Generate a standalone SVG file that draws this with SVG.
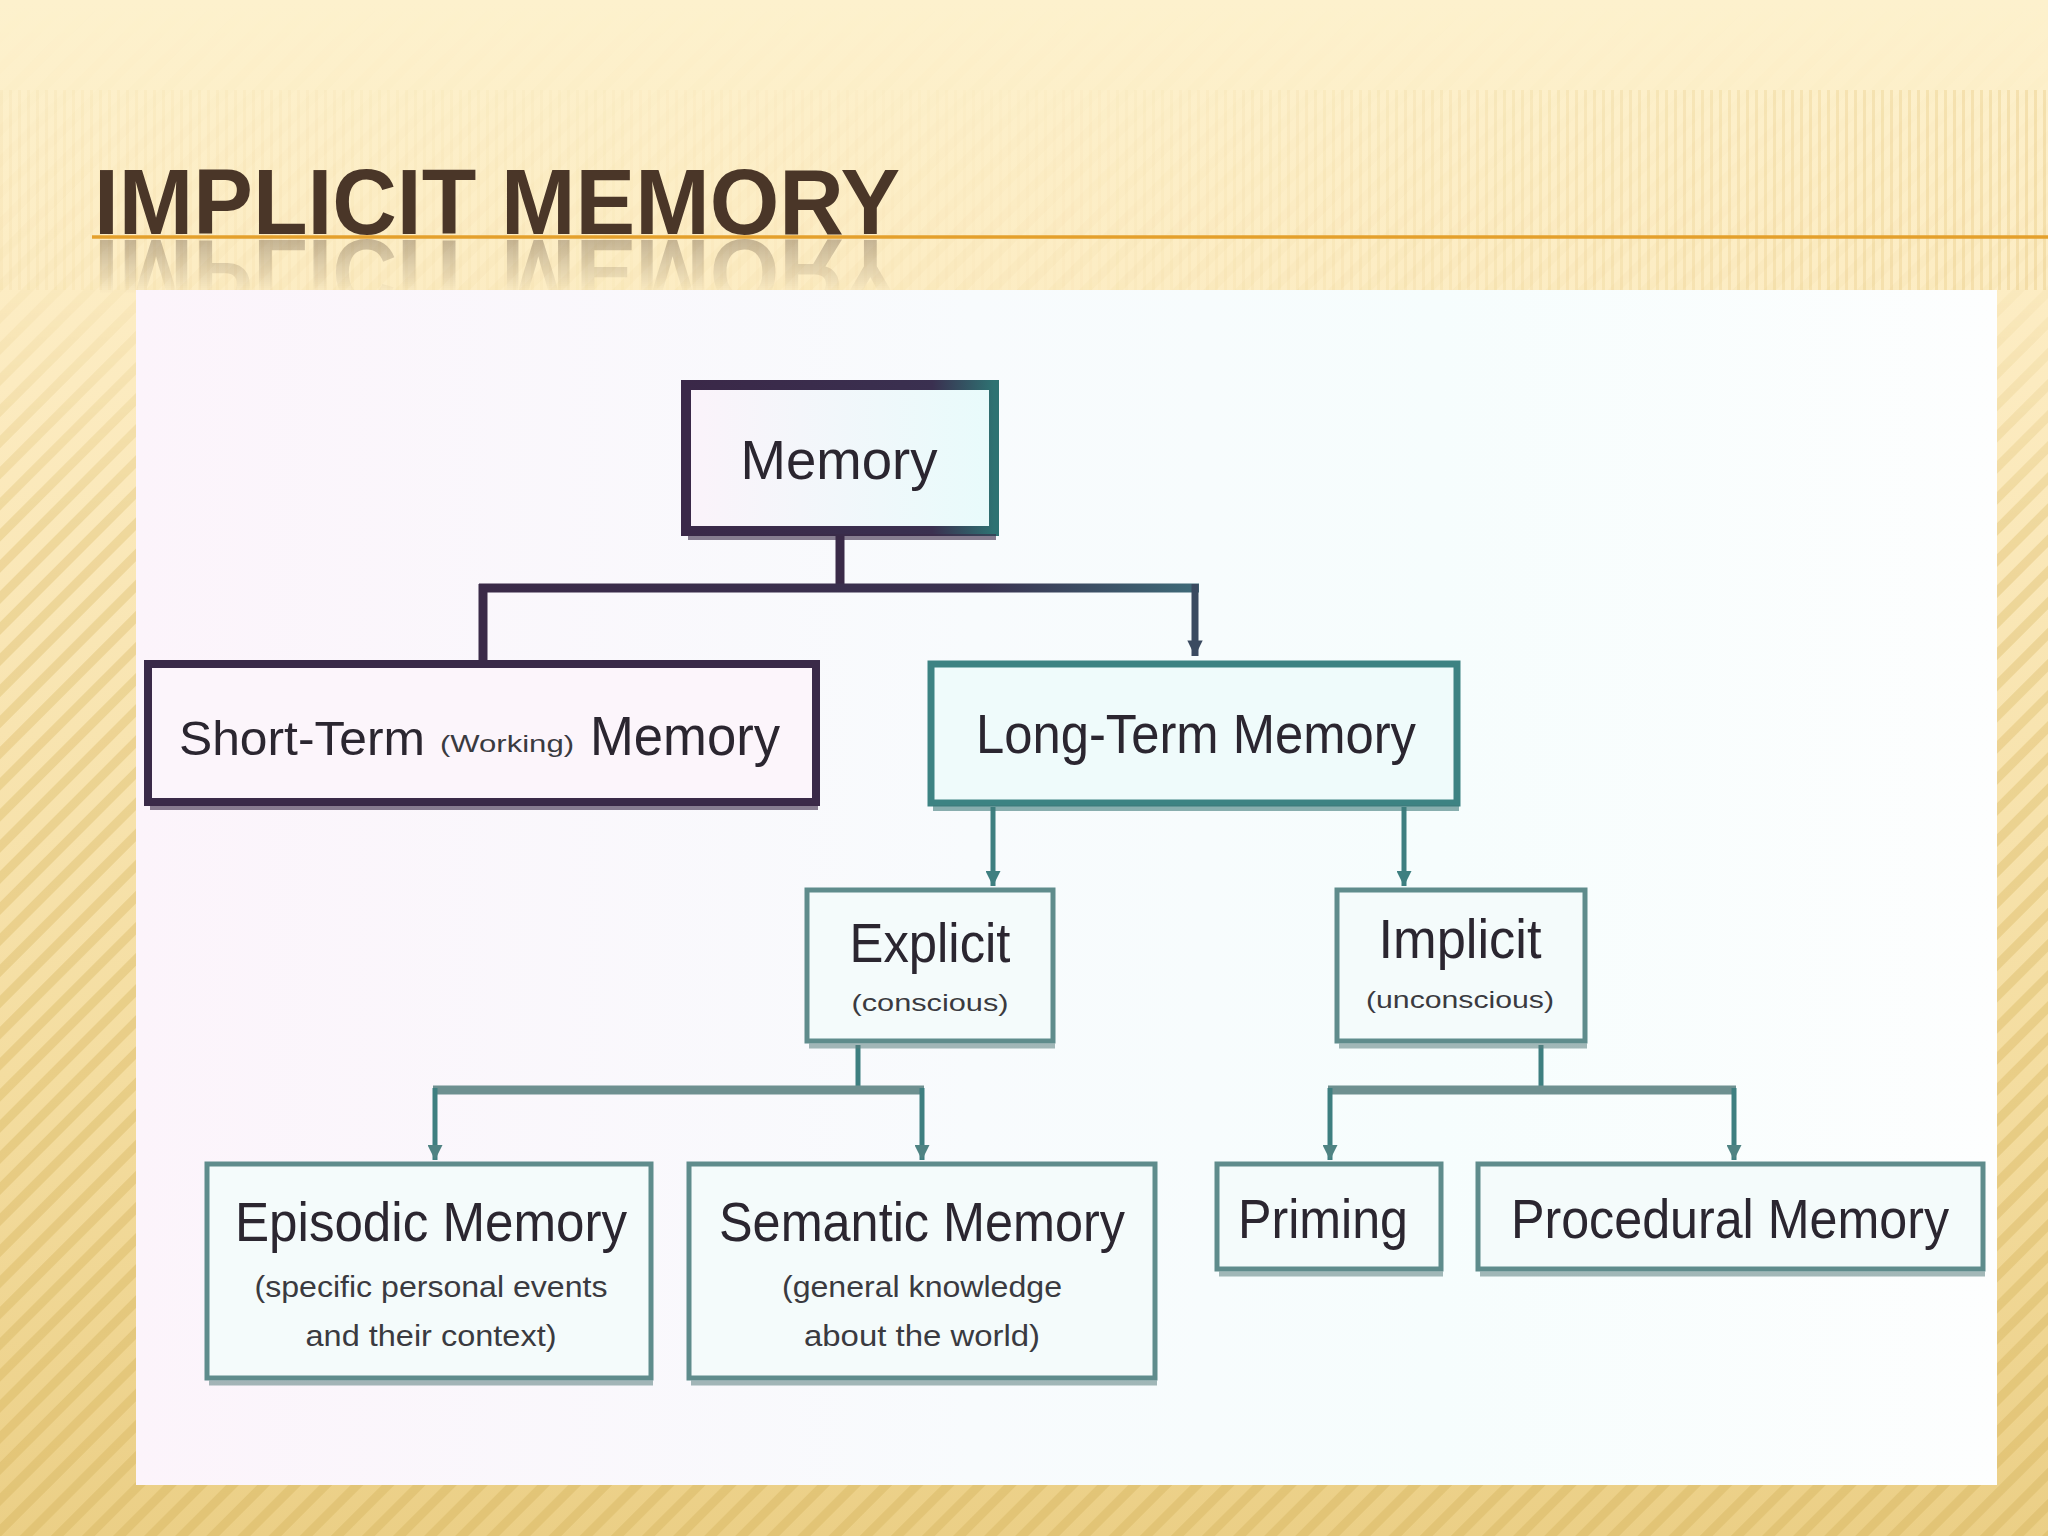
<svg xmlns="http://www.w3.org/2000/svg" width="2048" height="1536" viewBox="0 0 2048 1536">
  <defs>
    <linearGradient id="bg" x1="0" y1="0" x2="0" y2="1">
      <stop offset="0" stop-color="#FDF1CD"/>
      <stop offset="0.25" stop-color="#FCEBC0"/>
      <stop offset="0.7" stop-color="#F4DDA0"/>
      <stop offset="1" stop-color="#EBCF86"/>
    </linearGradient>
    <pattern id="diag" width="22" height="22" patternUnits="userSpaceOnUse" patternTransform="rotate(45)">
      <rect width="9" height="22" fill="#D9B965"/>
    </pattern>
    <pattern id="vert" width="9" height="10" patternUnits="userSpaceOnUse">
      <rect width="3" height="10" fill="#E5C57A"/>
    </pattern>
    <linearGradient id="fadeTop" x1="0" y1="0" x2="0" y2="1">
      <stop offset="0" stop-color="#fff" stop-opacity="0"/>
      <stop offset="0.18" stop-color="#fff" stop-opacity="0.05"/>
      <stop offset="0.35" stop-color="#fff" stop-opacity="0.35"/>
      <stop offset="1" stop-color="#fff" stop-opacity="0.5"/>
    </linearGradient>
    <mask id="stripeMask">
      <rect width="2048" height="1536" fill="url(#fadeTop)"/>
    </mask>
    <linearGradient id="vfade" x1="0" y1="0" x2="1" y2="0">
      <stop offset="0" stop-color="#fff" stop-opacity="0.1"/>
      <stop offset="0.5" stop-color="#fff" stop-opacity="0.03"/>
      <stop offset="1" stop-color="#fff" stop-opacity="0.35"/>
    </linearGradient>
    <mask id="vertMask">
      <rect x="0" y="90" width="2048" height="200" fill="url(#vfade)"/>
    </mask>
    <linearGradient id="reflFade" x1="0" y1="0" x2="0" y2="1">
      <stop offset="0" stop-color="#fff" stop-opacity="0.55"/>
      <stop offset="1" stop-color="#fff" stop-opacity="0"/>
    </linearGradient>
    <mask id="reflMask">
      <rect x="0" y="236" width="1000" height="58" fill="url(#reflFade)"/>
    </mask>
    <linearGradient id="panelTint" x1="0" y1="0" x2="1" y2="0">
      <stop offset="0" stop-color="#FCF4FB"/>
      <stop offset="0.45" stop-color="#F8FBFD"/>
      <stop offset="0.7" stop-color="#F6FDFD"/>
      <stop offset="1" stop-color="#FDFEFE"/>
    </linearGradient>
    <linearGradient id="memStroke" x1="0" y1="0" x2="1" y2="0">
      <stop offset="0" stop-color="#3A2848"/>
      <stop offset="0.8" stop-color="#3A3050"/>
      <stop offset="1" stop-color="#2E7272"/>
    </linearGradient>
    <linearGradient id="memFill" x1="0" y1="0" x2="1" y2="0">
      <stop offset="0" stop-color="#FBF3FA"/>
      <stop offset="1" stop-color="#E8FBFB"/>
    </linearGradient>
    <linearGradient id="topBar" gradientUnits="userSpaceOnUse" x1="483" y1="0" x2="1195" y2="0">
      <stop offset="0" stop-color="#3A2A48"/>
      <stop offset="0.7" stop-color="#3A3250"/>
      <stop offset="1" stop-color="#3E6A78"/>
    </linearGradient>
    <marker id="arrT" viewBox="0 0 10 10" refX="10" refY="5" markerWidth="3.4" markerHeight="3" orient="auto">
      <path d="M0,0 L10,5 L0,10 Z" fill="#3E7F80"/>
    </marker>
    <marker id="arrP" viewBox="0 0 10 10" refX="10" refY="5" markerWidth="2.4" markerHeight="2.2" orient="auto">
      <path d="M0,0 L10,5 L0,10 Z" fill="#3A4A60"/>
    </marker>
    <marker id="arrG" viewBox="0 0 10 10" refX="10" refY="5" markerWidth="3.4" markerHeight="3" orient="auto">
      <path d="M0,0 L10,5 L0,10 Z" fill="#4F8383"/>
    </marker>
    <style>
      .lbl { font-family: "Liberation Sans", "DejaVu Sans", sans-serif; fill: #2B2630; text-anchor: middle; }
      .big { font-size: 56px; }
      .mid { font-size: 49px; }
      .sub { font-size: 29px; fill: #3A3A40; }
      .small { font-size: 24px; fill: #3A3A40; }
      .boxP { fill: #FCF5FB; stroke: #3A2A48; stroke-width: 8; }
      .boxT { fill: #EFFBFB; stroke: #3D8383; stroke-width: 7; }
      .boxG { fill: #F4FBFB; stroke: #5F8C8C; stroke-width: 5; }
      .shP { fill: none; stroke: #3A2A48; stroke-width: 6; opacity: 0.6; }
      .shT { fill: none; stroke: #3D7A7A; stroke-width: 6; opacity: 0.6; }
      .shG { fill: none; stroke: #5A7E7E; stroke-width: 5; opacity: 0.55; }
      .cP { fill: none; stroke: #3A2A48; stroke-width: 9; }
      .cT { fill: none; stroke: #3E7F80; stroke-width: 5; }
      .cG { fill: none; stroke: #6E9090; stroke-width: 9; }
    </style>
  </defs>

  <!-- slide background -->
  <rect width="2048" height="1536" fill="url(#bg)"/>
  <rect width="2048" height="1536" fill="url(#diag)" mask="url(#stripeMask)"/>
  <rect x="0" y="90" width="2048" height="200" fill="url(#vert)" mask="url(#vertMask)"/>

  <!-- title -->
  <g id="title">
    <text id="titleText" x="94" y="234" font-family="Liberation Sans, Arial, sans-serif" font-weight="bold" font-size="92" fill="#4A3628" textLength="806" lengthAdjust="spacingAndGlyphs">IMPLICIT MEMORY</text>
    <g mask="url(#reflMask)" opacity="0.6">
      <use href="#titleText" transform="matrix(1 0 0 -1 0 474)"/>
    </g>
    <line x1="92" y1="237" x2="2048" y2="237" stroke="#E4A02C" stroke-width="3.5"/>
  </g>

  <!-- picture panel -->
  <rect x="136" y="290" width="1861" height="1195" fill="url(#panelTint)"/>

  <!-- connectors -->
  <g id="connectors">
    <path class="cP" d="M840,535 V588"/>
    <path d="M479,588 H1199" fill="none" stroke="url(#topBar)" stroke-width="9"/>
    <path class="cP" d="M483,584 V660"/>
    <path d="M1195,584 V656" fill="none" stroke="#3A4A60" stroke-width="7" marker-end="url(#arrP)"/>

    <path class="cT" d="M993,807 V886" marker-end="url(#arrT)"/>
    <path class="cT" d="M1404,807 V886" marker-end="url(#arrT)"/>

    <path class="cT" d="M858,1045 V1090"/>
    <path class="cG" d="M433,1090 H924"/>
    <path class="cT" d="M435,1088 V1160" marker-end="url(#arrG)"/>
    <path class="cT" d="M922,1088 V1160" marker-end="url(#arrG)"/>

    <path class="cT" d="M1541,1045 V1090"/>
    <path class="cG" d="M1328,1090 H1736"/>
    <path class="cT" d="M1330,1088 V1160" marker-end="url(#arrG)"/>
    <path class="cT" d="M1734,1088 V1160" marker-end="url(#arrG)"/>
  </g>

  <!-- nodes -->
  <g id="node-memory">
    <rect x="686" y="385" width="308" height="146" fill="url(#memFill)" stroke="url(#memStroke)" stroke-width="10"/>
    <line x1="688" y1="537" x2="996" y2="537" class="shP"/>
    <text class="lbl big" x="839" y="479" textLength="197" lengthAdjust="spacingAndGlyphs">Memory</text>
  </g>

  <g id="node-short-term">
    <rect x="148" y="664" width="668" height="138" class="boxP"/>
    <line x1="150" y1="807" x2="818" y2="807" class="shP"/>
    <text class="lbl mid" x="302" y="755" textLength="246" lengthAdjust="spacingAndGlyphs">Short-Term</text>
    <text class="lbl small" x="507" y="752" textLength="134" lengthAdjust="spacingAndGlyphs">(Working)</text>
    <text class="lbl big" x="685" y="755" textLength="190" lengthAdjust="spacingAndGlyphs">Memory</text>
  </g>

  <g id="node-long-term">
    <rect x="931" y="664" width="526" height="139" class="boxT"/>
    <line x1="933" y1="808" x2="1459" y2="808" class="shT"/>
    <text class="lbl big" x="1196" y="753" textLength="440" lengthAdjust="spacingAndGlyphs">Long-Term Memory</text>
  </g>

  <g id="node-explicit">
    <rect x="807" y="890" width="246" height="151" class="boxG"/>
    <line x1="809" y1="1046" x2="1055" y2="1046" class="shG"/>
    <text class="lbl big" x="930" y="962" textLength="161" lengthAdjust="spacingAndGlyphs">Explicit</text>
    <text class="lbl small" x="930" y="1011" textLength="157" lengthAdjust="spacingAndGlyphs">(conscious)</text>
  </g>

  <g id="node-implicit">
    <rect x="1337" y="890" width="248" height="151" class="boxG"/>
    <line x1="1339" y1="1046" x2="1587" y2="1046" class="shG"/>
    <text class="lbl big" x="1460" y="958" textLength="163" lengthAdjust="spacingAndGlyphs">Implicit</text>
    <text class="lbl small" x="1460" y="1008" textLength="188" lengthAdjust="spacingAndGlyphs">(unconscious)</text>
  </g>

  <g id="node-episodic">
    <rect x="207" y="1164" width="444" height="214" class="boxG"/>
    <line x1="209" y1="1383" x2="653" y2="1383" class="shG"/>
    <text class="lbl big" x="431" y="1241" textLength="392" lengthAdjust="spacingAndGlyphs">Episodic Memory</text>
    <text class="lbl sub" x="431" y="1297" textLength="353" lengthAdjust="spacingAndGlyphs">(specific personal events</text>
    <text class="lbl sub" x="431" y="1346" textLength="251" lengthAdjust="spacingAndGlyphs">and their context)</text>
  </g>

  <g id="node-semantic">
    <rect x="689" y="1164" width="466" height="214" class="boxG"/>
    <line x1="691" y1="1383" x2="1157" y2="1383" class="shG"/>
    <text class="lbl big" x="922" y="1241" textLength="406" lengthAdjust="spacingAndGlyphs">Semantic Memory</text>
    <text class="lbl sub" x="922" y="1297" textLength="280" lengthAdjust="spacingAndGlyphs">(general knowledge</text>
    <text class="lbl sub" x="922" y="1346" textLength="236" lengthAdjust="spacingAndGlyphs">about the world)</text>
  </g>

  <g id="node-priming">
    <rect x="1217" y="1164" width="224" height="105" class="boxG"/>
    <line x1="1219" y1="1274" x2="1443" y2="1274" class="shG"/>
    <text class="lbl big" x="1323" y="1238" textLength="170" lengthAdjust="spacingAndGlyphs">Priming</text>
  </g>

  <g id="node-procedural">
    <rect x="1478" y="1164" width="505" height="105" class="boxG"/>
    <line x1="1480" y1="1274" x2="1985" y2="1274" class="shG"/>
    <text class="lbl big" x="1730" y="1238" textLength="438" lengthAdjust="spacingAndGlyphs">Procedural Memory</text>
  </g>
</svg>
